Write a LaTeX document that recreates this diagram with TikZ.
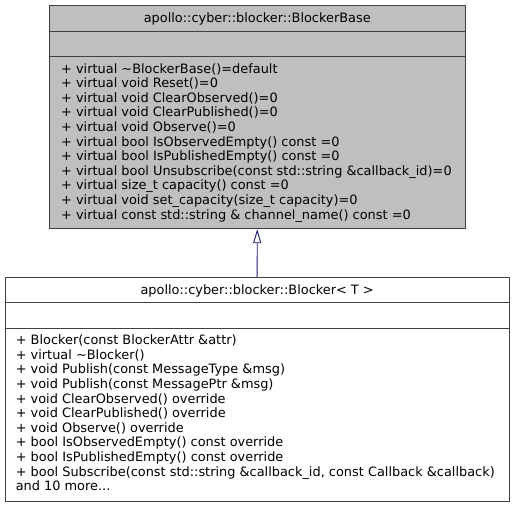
\documentclass[tikz,border=0pt]{standalone}
\usepackage{fontspec}
\setmainfont{DejaVu Sans}
\usetikzlibrary{arrows.meta}
\definecolor{boxfill}{HTML}{BFBFBF}
\definecolor{boxline}{HTML}{404040}
\definecolor{edgeblue}{HTML}{191970}
\tikzset{
  classbox/.style={draw=boxline, line width=0.9pt, inner sep=0pt},
  classname/.style={font=\fontsize{12.9}{14.6}\selectfont, inner sep=0pt},
  members/.style={font=\fontsize{12.9}{14.6}\selectfont, align=left, anchor=base west, inner sep=0pt},
}
\begin{document}
\begin{tikzpicture}[x=1pt,y=-1pt]
  \useasboundingbox (0,0) rectangle (515,507);

  % base class
  \node[classbox, fill=boxfill, minimum width=415.5pt, minimum height=223.4pt] (base) at (257.25,117) {};
  \node[classname] (basename) at (257.25,18.5) {apollo::cyber::blocker::BlockerBase};
  \draw[boxline, line width=0.9pt] (base.north west) ++(0,26.4) -- ++(415.5,0);
  \draw[boxline, line width=0.9pt] (base.north west) ++(0,51.4) -- ++(415.5,0);
  \node[members] (baseops) at (61,219) {+ virtual \textasciitilde BlockerBase()=default\\
    + virtual void Reset()=0\\
    + virtual void ClearObserved()=0\\
    + virtual void ClearPublished()=0\\
    + virtual void Observe()=0\\
    + virtual bool IsObservedEmpty() const =0\\
    + virtual bool IsPublishedEmpty() const =0\\
    + virtual bool Unsubscribe(const std::string \&callback\_id)=0\\
    + virtual size\_t capacity() const =0\\
    + virtual void set\_capacity(size\_t capacity)=0\\
    + virtual const std::string \& channel\_name() const =0};

  % derived class
  \node[classbox, fill=white, minimum width=504.3pt, minimum height=223.7pt] (derived) at (257.15,389.15) {};
  \node[classname] (derivedname) at (257.15,290.5) {apollo::cyber::blocker::Blocker< T >};
  \draw[boxline, line width=0.9pt] (derived.north west) ++(0,26) -- ++(504.3,0);
  \draw[boxline, line width=0.9pt] (derived.north west) ++(0,51.7) -- ++(504.3,0);
  \node[members] (derivedops) at (15.6,490.7) {+ Blocker(const BlockerAttr \&attr)\\
    + virtual \textasciitilde Blocker()\\
    + void Publish(const MessageType \&msg)\\
    + void Publish(const MessagePtr \&msg)\\
    + void ClearObserved() override\\
    + void ClearPublished() override\\
    + void Observe() override\\
    + bool IsObservedEmpty() const override\\
    + bool IsPublishedEmpty() const override\\
    + bool Subscribe(const std::string \&callback\_id, const Callback \&callback)\\
    and 10 more...};

  \draw[edgeblue, line width=0.9pt, -{Triangle[open, width=8pt, length=14pt]}] (derived) -- (base);
\end{tikzpicture}
\end{document}
